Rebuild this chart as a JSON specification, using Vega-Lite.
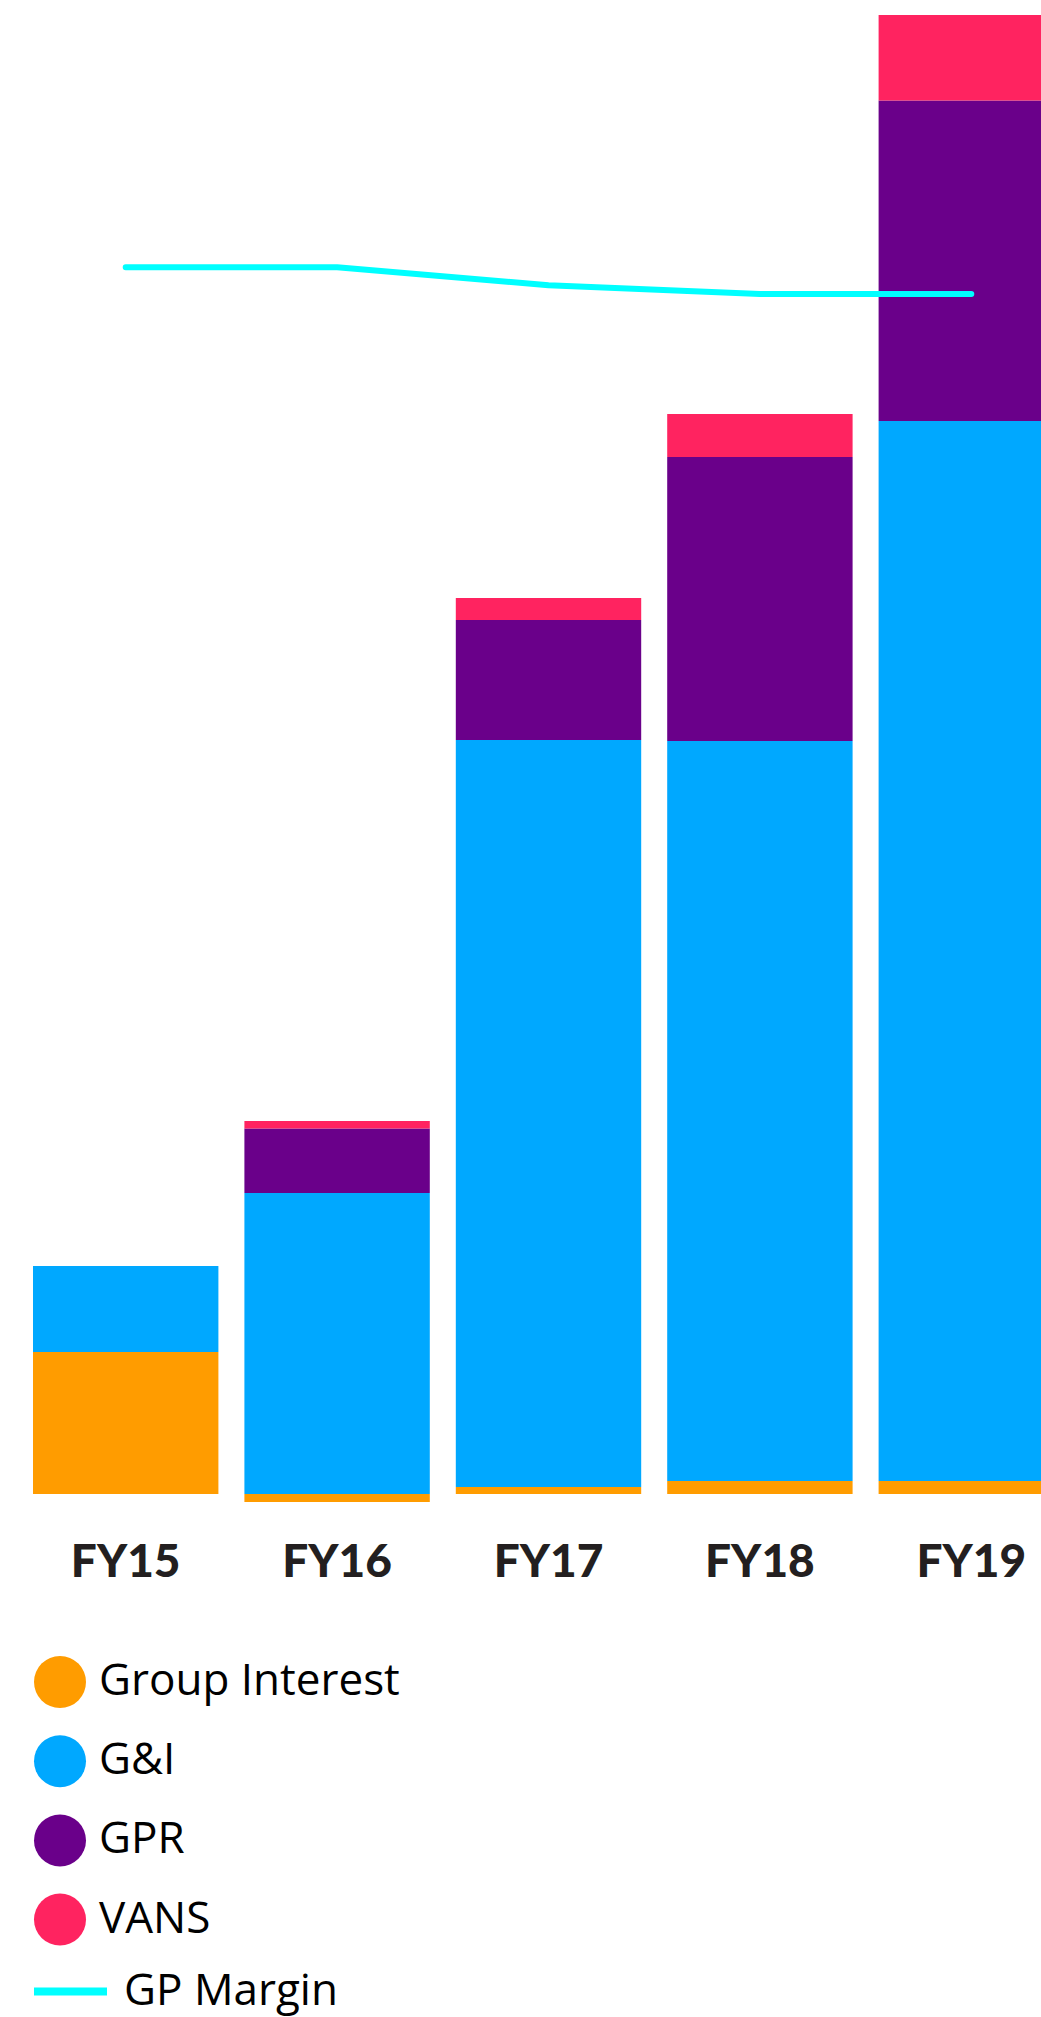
{
  "$schema": "https://vega.github.io/schema/vega-lite/v6.json",
  "autosize": {"type": "none"},
  "padding": {"left": 20, "top": 14, "right": 0, "bottom": 513},
  "width": 1057,
  "height": 1490,
  "background": "white",
  "config": {"view": {"stroke": null}},
  "datasets": {
    "bars": [
      {"year": "FY15", "segment": "Group Interest", "seriesOrder": 1, "value": 14.2},
      {"year": "FY15", "segment": "G&I", "seriesOrder": 2, "value": 8.6},
      {"year": "FY16", "segment": "Group Interest", "seriesOrder": 1, "value": -0.8},
      {"year": "FY16", "segment": "G&I", "seriesOrder": 2, "value": 30.1},
      {"year": "FY16", "segment": "GPR", "seriesOrder": 3, "value": 6.45},
      {"year": "FY16", "segment": "VANS", "seriesOrder": 4, "value": 0.75},
      {"year": "FY17", "segment": "Group Interest", "seriesOrder": 1, "value": 0.7},
      {"year": "FY17", "segment": "G&I", "seriesOrder": 2, "value": 74.7},
      {"year": "FY17", "segment": "GPR", "seriesOrder": 3, "value": 12.0},
      {"year": "FY17", "segment": "VANS", "seriesOrder": 4, "value": 2.2},
      {"year": "FY18", "segment": "Group Interest", "seriesOrder": 1, "value": 1.3},
      {"year": "FY18", "segment": "G&I", "seriesOrder": 2, "value": 74.0},
      {"year": "FY18", "segment": "GPR", "seriesOrder": 3, "value": 28.4},
      {"year": "FY18", "segment": "VANS", "seriesOrder": 4, "value": 4.3},
      {"year": "FY19", "segment": "Group Interest", "seriesOrder": 1, "value": 1.3},
      {"year": "FY19", "segment": "G&I", "seriesOrder": 2, "value": 106.0},
      {"year": "FY19", "segment": "GPR", "seriesOrder": 3, "value": 32.05},
      {"year": "FY19", "segment": "VANS", "seriesOrder": 4, "value": 8.55}
    ],
    "margin": [
      {"year": "FY15", "series": "GP Margin", "gpMargin": 83.0},
      {"year": "FY16", "series": "GP Margin", "gpMargin": 83.0},
      {"year": "FY17", "series": "GP Margin", "gpMargin": 81.8},
      {"year": "FY18", "series": "GP Margin", "gpMargin": 81.2},
      {"year": "FY19", "series": "GP Margin", "gpMargin": 81.2}
    ]
  },
  "layer": [
    {
      "data": {"name": "bars"},
      "mark": {"type": "bar"},
      "encoding": {
        "x": {
          "field": "year", "type": "nominal",
          "scale": {"paddingInner": 0.123, "paddingOuter": 0.0615},
          "axis": {"title": null, "domain": false, "ticks": false, "tickSize": 0, "labelAngle": 0,
                   "labelFont": "Lato", "labelFontWeight": 900, "labelFontSize": 46, "labelColor": "#231f20",
                   "labelBaseline": "alphabetic", "labelPadding": 72}
        },
        "y": {
          "field": "value", "type": "quantitative", "stack": "zero",
          "scale": {"domain": [-1, 148], "nice": false, "zero": false},
          "axis": null
        },
        "color": {
          "field": "segment", "type": "nominal",
          "scale": {"domain": ["Group Interest", "G&I", "GPR", "VANS"], "range": ["#FF9C00", "#00A8FF", "#6A008A", "#FF2360"]},
          "legend": {"title": null, "orient": "none", "legendX": 14, "legendY": 1642, "direction": "vertical",
                     "symbolType": "circle", "symbolSize": 2704, "symbolStrokeWidth": 0, "symbolOpacity": 1,
                     "labelFont": "Open Sans", "labelFontSize": 44, "labelColor": "#000000", "rowPadding": 27.2,
                     "labelOffset": 13, "labelLimit": 0, "padding": 0}
        },
        "order": {"field": "seriesOrder", "type": "quantitative"}
      }
    },
    {
      "data": {"name": "margin"},
      "mark": {"type": "line", "strokeWidth": 6, "strokeCap": "round", "strokeJoin": "round"},
      "encoding": {
        "x": {"field": "year", "type": "nominal"},
        "y": {"field": "gpMargin", "type": "quantitative", "scale": {"domain": [0, 100], "nice": false}, "axis": null},
        "stroke": {
          "field": "series", "type": "nominal",
          "scale": {"domain": ["GP Margin"], "range": ["#00FFFF"]},
          "legend": {"title": null, "orient": "none", "legendX": 10, "legendY": 1937,
                     "symbolType": "stroke", "symbolSize": 5329, "symbolStrokeWidth": 8,
                     "labelFont": "Open Sans", "labelFontSize": 44, "labelColor": "#000000",
                     "labelOffset": 13, "labelLimit": 0, "padding": 0}
        }
      }
    }
  ],
  "resolve": {"scale": {"y": "independent"}}
}
